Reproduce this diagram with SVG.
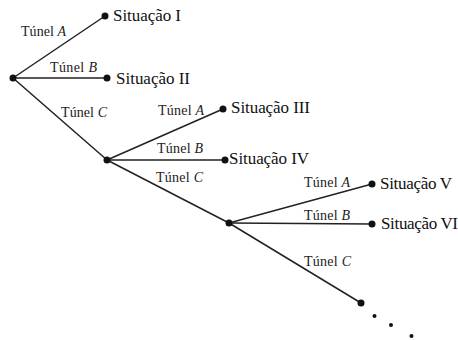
<svg xmlns="http://www.w3.org/2000/svg" width="458" height="340" viewBox="0 0 458 340">
  <style>
    .edge { stroke: #222; stroke-width: 1.5; fill: none; stroke-linecap: round; }
    .dot { fill: #111; }
    .sit { font-family: "Liberation Serif", "DejaVu Serif", serif; font-size: 17px; fill: #111; }
    .lbl { font-family: "Liberation Serif", "DejaVu Serif", serif; font-size: 14px; fill: #222; }
    .it { font-style: italic; }
  </style>
  <rect width="458" height="340" fill="#fff"/>

  <!-- branches -->
  <g id="connectors">
    <line class="edge" x1="13" y1="78" x2="105" y2="16"/>
    <line class="edge" x1="13" y1="78" x2="107" y2="78"/>
    <line class="edge" x1="13" y1="78" x2="107" y2="160"/>
    <line class="edge" x1="107" y1="160" x2="223" y2="109"/>
    <line class="edge" x1="107" y1="160" x2="225" y2="160"/>
    <line class="edge" x1="107" y1="160" x2="229" y2="223"/>
    <line class="edge" x1="229" y1="223" x2="372" y2="184"/>
    <line class="edge" x1="229" y1="223" x2="372" y2="224"/>
    <line class="edge" x1="229" y1="223" x2="361" y2="303"/>
    <!-- tunnel labels -->
    <text class="lbl" x="21" y="36" textLength="45">Túnel <tspan class="it">A</tspan></text>
    <text class="lbl" x="50" y="72" textLength="47">Túnel <tspan class="it">B</tspan></text>
    <text class="lbl" x="61" y="117" textLength="46">Túnel <tspan class="it">C</tspan></text>
    <text class="lbl" x="158" y="115" textLength="46">Túnel <tspan class="it">A</tspan></text>
    <text class="lbl" x="157" y="153" textLength="46">Túnel <tspan class="it">B</tspan></text>
    <text class="lbl" x="156" y="182" textLength="47">Túnel <tspan class="it">C</tspan></text>
    <text class="lbl" x="304" y="187" textLength="46">Túnel <tspan class="it">A</tspan></text>
    <text class="lbl" x="304" y="220" textLength="46">Túnel <tspan class="it">B</tspan></text>
    <text class="lbl" x="304" y="266" textLength="47">Túnel <tspan class="it">C</tspan></text>
  </g>

  <g id="root"><circle class="dot" cx="13" cy="78" r="3.5"/></g>
  <g id="s1">
    <circle class="dot" cx="105" cy="16" r="3.5"/>
    <text class="sit" x="113" y="21" textLength="68">Situação I</text>
  </g>
  <g id="s2">
    <circle class="dot" cx="107" cy="78" r="3.5"/>
    <text class="sit" x="116" y="84" textLength="74">Situação II</text>
  </g>
  <g id="n2"><circle class="dot" cx="107" cy="160" r="3.5"/></g>
  <g id="s3">
    <circle class="dot" cx="223" cy="109" r="3.5"/>
    <text class="sit" x="231" y="113" textLength="79">Situação III</text>
  </g>
  <g id="s4">
    <circle class="dot" cx="225" cy="160" r="3.5"/>
    <text class="sit" x="229" y="164" textLength="80">Situação IV</text>
  </g>
  <g id="n3"><circle class="dot" cx="229" cy="223" r="3.5"/></g>
  <g id="s5">
    <circle class="dot" cx="372" cy="184" r="3.5"/>
    <text class="sit" x="380" y="189" textLength="72">Situação V</text>
  </g>
  <g id="s6">
    <circle class="dot" cx="372" cy="224" r="3.5"/>
    <text class="sit" x="381" y="229" textLength="77">Situação VI</text>
  </g>
  <g id="n4">
    <circle class="dot" cx="361" cy="303" r="3.5"/>
    <circle class="dot" cx="374.5" cy="316" r="2"/>
    <circle class="dot" cx="391" cy="325" r="2"/>
    <circle class="dot" cx="411.5" cy="336" r="2"/>
  </g>
</svg>
